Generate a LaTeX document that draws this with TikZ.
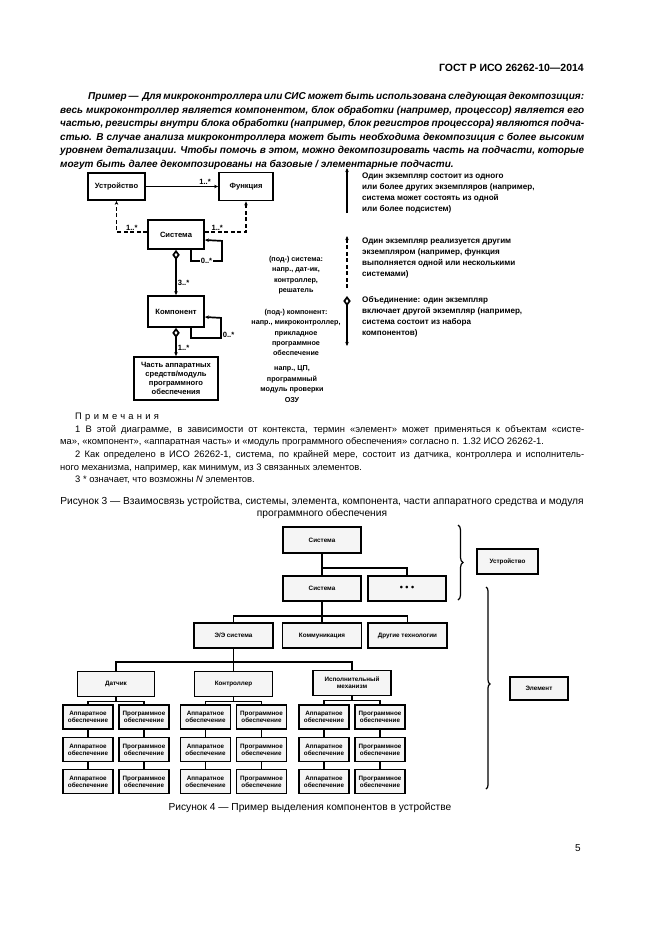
\documentclass[tikz,border=0pt]{standalone}
\usepackage{fontspec}
\setmainfont{Liberation Sans}
\newfontfamily\spacedfont[LetterSpace=35]{Liberation Sans}
\usepackage{tikz}
\usetikzlibrary{arrows.meta,positioning,shapes,calc,decorations.pathreplacing}

\newcommand{\figfont}{\fontsize{7.6}{8.8}\selectfont\bfseries}
\newcommand{\smallfig}{\fontsize{6.3}{7.2}\selectfont\bfseries}
\newcommand{\jline}[2]{\makebox[#1][s]{#2}}

\tikzset{
  box/.style={draw, line width=1.8pt, fill=white, inner sep=1pt, align=center, font=\figfont},
  gbox/.style={draw, line width=1.8pt, fill=gray!8, inner sep=1pt, align=center, font=\smallfig, minimum width=78pt, minimum height=25pt},
  sbox/.style={gbox, minimum width=50pt, minimum height=24pt},
  conn/.style={line width=1.7pt},
  dashconn/.style={conn, dash pattern=on 4pt off 2.5pt},
  arrowtip/.style={-{Stealth[length=4pt,width=3.5pt]}},
  aggr/.style={arrows={Diamond[open,length=10pt,width=7.5pt]-Stealth[length=4pt,width=3.5pt]}},
  lbl/.style={font=\figfont, inner sep=1pt},
  txt/.style={font=\fontsize{7.2}{10.4}\selectfont\bfseries, align=center, inner sep=0pt},
  legtxt/.style={font=\fontsize{8.1}{11}\selectfont\bfseries, align=left, anchor=north west, inner sep=0pt},
  hline/.style={line width=1.7pt},
}

\begin{document}
\begin{tikzpicture}[x=1pt,y=-1pt]
\useasboundingbox (0,0) rectangle (661,935);
\fill[white] (0,0) rectangle (661,935);

% Header
\node[anchor=east, font=\fontsize{10.5}{12}\selectfont\bfseries, inner sep=0] (gost) at (584,68) {ГОСТ Р ИСО 26262-10—2014};

% Example
\node[anchor=north west, inner sep=0, align=left, font=\fontsize{10}{13.6}\selectfont\bfseries\itshape] (primer) at (60,92) {%
\hspace*{28pt}\jline{496pt}{Пример —\ \ Для микроконтроллера или СИС может быть использована следующая декомпозиция:}\\
\jline{524pt}{весь микроконтроллер является компонентом, блок обработки (например, процессор) является его}\\
\jline{524pt}{частью, регистры внутри блока обработки (например, блок регистров процессора) являются подча-}\\
\jline{524pt}{стью. В случае анализа микроконтроллера может быть необходима декомпозиция с более высоким}\\
\jline{524pt}{уровнем детализации. Чтобы помочь в этом, можно декомпозировать часть на подчасти, которые}\\
могут быть далее декомпозированы на базовые / элементарные подчасти.};

%Figure 3
\node[box, minimum width=57pt, minimum height=27pt] (ustr) at (116.5,186.5) {Устройство};
\node[box, minimum width=54pt, minimum height=28pt] (funk) at (246,186.5) {Функция};
\node[box, minimum width=56pt, minimum height=29pt] (sist) at (176,234.5) {Система};
\node[box, minimum width=56pt, minimum height=31pt] (komp) at (176,311.5) {Компонент};
\node[box, minimum width=84pt, minimum height=43pt] (chast) at (176,378.5) {Часть аппаратных\\средств/модуль\\программного\\обеспечения};

\draw[conn, arrowtip] (ustr.east) -- node[lbl, above, pos=0.82] {1..*} (funk.west);
\draw[dashconn, arrowtip] ([yshift=2.5pt]sist.west) -| node[lbl, above, pos=0.25] {1..*} (ustr.south);
\draw[dashconn, arrowtip] ([yshift=2.5pt]sist.east) -| node[lbl, above, pos=0.15] {1..*} (funk.south);
\draw[conn, arrowtip] ([xshift=15pt]sist.south) -- ++(0,11) -- node[lbl, fill=white] {0..*} ++(31,0) -- ++(0,-20) -- ([yshift=-5.5pt]sist.east);
\draw[conn, aggr] (sist.south) -- node[lbl, right, pos=0.72] {3..*} (komp.north);
\draw[conn, arrowtip] ([xshift=15pt]komp.south) -- ++(0,10) -- ++(30,0) -- node[lbl, right, pos=0.15] {0..*} ++(0,-20) -- ([yshift=-5.5pt]komp.east);
\draw[conn, aggr] (komp.south) -- node[lbl, right, pos=0.7] {1..*} (chast.north);

\node[txt] (podsist) at (296,275) {(под-) система:\\напр., дат-ик,\\контроллер,\\решатель};
\node[txt] (podkomp) at (296,332.5) {(под-) компонент:\\напр., микроконтроллер,\\прикладное\\программное\\обеспечение};
\node[txt] (cpu) at (292,384) {напр., ЦП,\\программный\\модуль проверки\\ОЗУ};

%Legend
\coordinate (l1a) at (347,213); \coordinate (l1b) at (347,168);
\coordinate (l2a) at (347,288); \coordinate (l2b) at (347,236);
\coordinate (l3a) at (347,296); \coordinate (l3b) at (347,346);
\draw[conn, arrowtip] (l1a) -- (l1b);
\draw[dashconn, arrowtip] (l2a) -- (l2b);
\draw[conn, aggr] (l3a) -- (l3b);
\node[legtxt] (leg1) at (362,173) {Один экземпляр состоит из одного\\или более других экземпляров (например,\\система может состоять из одной\\или более подсистем)};
\node[legtxt] (leg2) at (362,238) {Один экземпляр реализуется другим\\экземпляром (например, функция\\выполняется одной или несколькими\\системами)};
\node[legtxt] (leg3) at (362,296) {Объединение: один экземпляр\\включает другой экземпляр (например,\\система состоит из набора\\компонентов)};

% Notes
\node[anchor=north west, inner sep=0, align=left, font=\fontsize{9.4}{12.6}\selectfont] (prim) at (60,413) {%
\hspace*{15pt}{\spacedfont Примечания}\\
\hspace*{15pt}\jline{509pt}{1 В этой диаграмме, в зависимости от контекста, термин «элемент» может применяться к объектам «систе-}\\
ма», «компонент», «аппаратная часть» и «модуль программного обеспечения» согласно п. 1.32 ИСО 26262-1.\\
\hspace*{15pt}\jline{509pt}{2 Как определено в ИСО 26262-1, система, по крайней мере, состоит из датчика, контроллера и исполнитель-}\\
ного механизма, например, как минимум, из 3 связанных элементов.\\
\hspace*{15pt}3 * означает, что возможны \textit{N} элементов.};

\node[font=\fontsize{10.2}{12}\selectfont, align=center, inner sep=0] (cap3) at (322,508) {Рисунок 3 — Взаимосвязь устройства, системы, элемента, компонента, части аппаратного средства и модуля\\программного обеспечения};

%Figure 4
\node[gbox, minimum height=26pt] (s1) at (322,540) {Система};
\node[gbox] (s2) at (322,588.5) {Система};
\node[gbox, font=\fontsize{9}{9}\selectfont\bfseries] (dots) at (407,588.5) {•\ •\ •};
\node[gbox, minimum width=79pt] (ee) at (233.5,635.5) {Э/Э система};
\node[gbox, minimum width=79pt] (komm) at (322,635.5) {Коммуникация};
\node[gbox, minimum width=79pt] (drug) at (407.5,635.5) {Другие технологии};
\node[gbox, minimum width=77pt] (dat) at (116,684) {Датчик};
\node[gbox] (kontr) at (233.5,684) {Контроллер};
\node[gbox] (isp) at (352,683) {Исполнительный\\механизм};
\node[gbox, minimum width=61pt] (ustrF) at (507.5,561.5) {Устройство};
\node[gbox, minimum width=58pt, minimum height=23pt] (elem) at (539,688.5) {Элемент};

\draw[hline] (s1) -- (s2);
\draw[hline] (s1.south) -- ++(0,14) -| (dots.north);
\draw[hline] (s2) -- (komm);
\draw[hline] (s2.south) -- ++(0,14) -| (ee.north);
\draw[hline] (s2.south) -- ++(0,14) -| (drug.north);
\draw[hline] (ee) -- (kontr);
\draw[hline] (ee.south) -- ++(0,13) -| (dat.north);
\draw[hline] (ee.south) -- ++(0,13) -| (isp.north);

\foreach \p/\px in {dat/116,kontr/233.5,isp/352}{
  \foreach \r/\ry in {1/717,2/749.5,3/781.5}{
    \node[sbox] (\p-h\r) at (\px-28,\ry) {Аппаратное\\обеспечение};
    \node[sbox] (\p-s\r) at (\px+28,\ry) {Программное\\обеспечение};
  }
  \draw[hline] (\p.south) -- ++(0,4) -| (\p-h1.north);
  \draw[hline] (\p.south) -- ++(0,4) -| (\p-s1.north);
  \draw[hline] (\p-h1) -- (\p-h2) (\p-h2) -- (\p-h3);
  \draw[hline] (\p-s1) -- (\p-s2) (\p-s2) -- (\p-s3);
}

% braces
\coordinate (br1a) at (458,525); \coordinate (br1b) at (458,600);
\coordinate (br2a) at (486,587); \coordinate (br2b) at (486,789);
\draw[line width=1.2pt, decorate, decoration={brace, amplitude=5pt}] (br1a) -- (br1b);
\draw[line width=1.2pt, decorate, decoration={brace, amplitude=4pt, aspect=0.48}] (br2a) -- (br2b);

\node[font=\fontsize{10.2}{12}\selectfont, inner sep=0] (cap4) at (310,808) {Рисунок 4 — Пример выделения компонентов в устройстве};
\node[font=\fontsize{10}{12}\selectfont, inner sep=0] (pnum) at (578,848) {5};
\end{tikzpicture}
\end{document}
